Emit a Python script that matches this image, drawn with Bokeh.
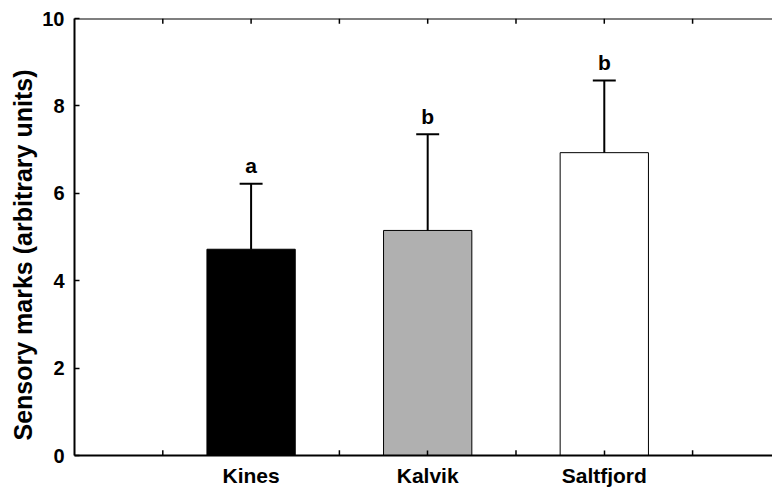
from bokeh.plotting import figure
from bokeh.models import ColumnDataSource, Range1d, FixedTicker, Span, Title
from bokeh.core.properties import value
from bokeh.embed import file_html
from bokeh.resources import INLINE

categories = ["Kines", "Kalvik", "Saltfjord"]
means = [4.72, 5.15, 6.93]
upper = [6.22, 7.35, 8.58]
letters = ["a", "b", "b"]
bar_colors = ["#000000", "#b0b0b0", "#ffffff"]
y_ticks = [0, 2, 4, 6, 8, 10]
minor_x = [1, 3, 5, 7]

Y_MAX = 10
TICK = 0.12  # tick length in y units

xs = [2 * (i + 1) for i in range(len(categories))]
src = ColumnDataSource(dict(x=xs, top=means, up=upper, lab=letters, color=bar_colors,
                            cl=[x - 0.13 for x in xs], cr=[x + 0.13 for x in xs]))

FONT = "Liberation Sans"
p = figure(width=772, height=489, output_backend="svg", toolbar_location=None,
           x_range=Range1d(0, 7.905), y_range=Range1d(0, Y_MAX),
           min_border_left=74, min_border_right=0, min_border_top=18, min_border_bottom=0)
p.outline_line_color = None
p.grid.visible = False
p.background_fill_color = "white"

p.vbar(x="x", top="top", bottom=0, width=1.0, fill_color="color", line_color="black",
       line_width=1, source=src)
p.segment(x0="x", y0="top", x1="x", y1="up", line_color="black", line_width=2, source=src)
p.segment(x0="cl", y0="up", x1="cr", y1="up", line_color="black", line_width=2, source=src)
p.text(x="x", y="up", text="lab", y_offset=-18, text_align="center", text_baseline="alphabetic",
       text_font=value(FONT), text_font_style="bold", text_font_size="21px", text_color="black",
       source=src)

# top frame line and ticks, plus unlabelled bottom ticks
p.add_layout(Span(location=Y_MAX, dimension="width", line_color="black", line_width=2))
all_x = sorted(minor_x + xs)
p.segment(x0=all_x, y0=[Y_MAX] * len(all_x), x1=all_x, y1=[Y_MAX - TICK] * len(all_x),
          line_color="black", line_width=1.5)
p.segment(x0=minor_x, y0=[0] * len(minor_x), x1=minor_x, y1=[TICK] * len(minor_x),
          line_color="black", line_width=1.5)

xa = p.xaxis[0]
xa.ticker = FixedTicker(ticks=xs)
xa.major_label_overrides = {x: c for x, c in zip(xs, categories)}
ya = p.yaxis[0]
ya.ticker = FixedTicker(ticks=y_ticks)

ylab = Title(text="Sensory marks (arbitrary units)", align="left", offset=15,
             text_font_size="25px", text_font_style="bold", text_font=FONT,
             text_color="black", standoff=6)
p.add_layout(ylab, "left")

for ax in [xa, ya]:
    ax.axis_line_width = 2
    ax.axis_line_color = "black"
    ax.major_tick_in = 5
    ax.major_tick_out = 0
    ax.major_tick_line_width = 1.5
    ax.minor_tick_line_color = None
    ax.major_label_text_font = FONT
    ax.major_label_text_font_style = "bold"
    ax.major_label_text_color = "black"
xa.major_label_text_font_size = "21px"
xa.major_label_standoff = 8
ya.major_label_text_font_size = "20px"
ya.major_label_standoff = 10

open("out.html", "w").write(file_html(p, INLINE))
